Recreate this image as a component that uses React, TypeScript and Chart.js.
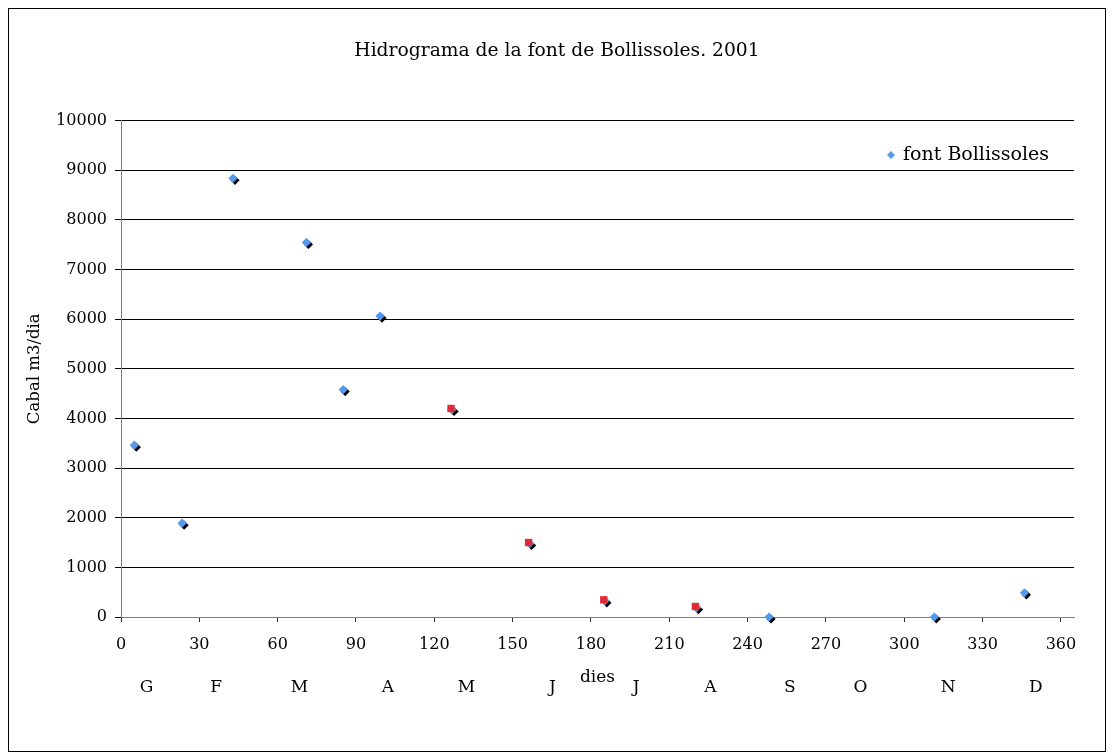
import React, { useEffect, useRef } from 'react';
import { Chart, registerables } from 'chart.js';

Chart.register(...registerables);

const TITLE = 'Hidrograma de la font de Bollissoles. 2001';
const SERIES_LABEL = 'font Bollissoles';
const X_TITLE = 'dies';
const Y_TITLE = 'Cabal m3/dia';

// font Bollissoles (blue diamonds)
const bollissolesDays = [5.1, 23.4, 42.9, 71.0, 85.1, 99.2, 126.8, 156.5, 185.3, 220.4, 248.2, 311.5, 346.0];
const bollissolesFlow = [3460, 1890, 8835, 7545, 4580, 6060, 4180, 1480, 325, 190, 0, 0, 486];

// red square measurements
const redDays = [126.4, 156.1, 184.9, 220.0];
const redFlow = [4200, 1500, 346, 212];

// month letters under the axis
const monthLabels = ['G', 'F', 'M', 'A', 'M', 'J', 'J', 'A', 'S', 'O', 'N', 'D'];
const monthPositions = [9.8, 36.4, 68.3, 102.2, 132.3, 165.2, 197.3, 225.7, 256.2, 283.2, 316.8, 350.4];

const X_MIN = 0;
const X_MAX = 365;
const X_STEP = 30;
const Y_MIN = 0;
const Y_MAX = 10000;
const Y_STEP = 1000;

const FONT = '"DejaVu Serif", "Liberation Serif", serif';
const BLUE = '#5599EE';
const RED = '#E02A36';

const W = 1096;
const H = 742;

export default function App() {
  const ref = useRef<HTMLCanvasElement | null>(null);

  useEffect(() => {
    if (!ref.current) return;

    const shadowPlugin = {
      id: 'blueShadow',
      beforeDatasetDraw(chart: any, args: any) {
        if (args.index === 0) {
          const ctx = chart.ctx;
          ctx.save();
          ctx.shadowColor = '#000000';
          ctx.shadowOffsetX = 2;
          ctx.shadowOffsetY = 2;
          ctx.shadowBlur = 0;
        }
      },
      afterDatasetDraw(chart: any, args: any) {
        if (args.index === 0) chart.ctx.restore();
      },
    };

    const extrasPlugin = {
      id: 'extras',
      afterDraw(chart: any) {
        const { ctx, chartArea, scales } = chart;
        ctx.save();
        // title
        ctx.fillStyle = '#000';
        ctx.font = `18.7px ${FONT}`;
        ctx.textAlign = 'center';
        ctx.textBaseline = 'middle';
        ctx.fillText(TITLE, 548, 42);
        // legend
        const mx = chartArea.right - 183;
        const my = chartArea.top + 34.5;
        const r = 4;
        ctx.fillStyle = BLUE;
        ctx.beginPath();
        ctx.moveTo(mx, my - r);
        ctx.lineTo(mx + r, my);
        ctx.lineTo(mx, my + r);
        ctx.lineTo(mx - r, my);
        ctx.closePath();
        ctx.fill();
        ctx.fillStyle = '#000';
        ctx.font = `19px ${FONT}`;
        ctx.textAlign = 'left';
        ctx.fillText(SERIES_LABEL, chartArea.right - 171, my);
        // months
        ctx.font = `17px ${FONT}`;
        ctx.textAlign = 'center';
        monthLabels.forEach((m, i) => {
          const x = scales.x.getPixelForValue(monthPositions[i]);
          ctx.fillText(m, x, chartArea.bottom + 71);
        });
        ctx.restore();
      },
    };

    const chart = new Chart(ref.current, {
      type: 'scatter',
      data: {
        datasets: [
          {
            label: SERIES_LABEL,
            data: bollissolesDays.map((d, i) => ({ x: d, y: bollissolesFlow[i] })),
            pointStyle: 'rectRot',
            pointRadius: 4.6,
            pointHoverRadius: 4.6,
            pointBackgroundColor: BLUE,
            pointBorderWidth: 0,
            borderColor: BLUE,
            backgroundColor: BLUE,
            showLine: false,
            clip: false as any,
            order: 1,
          },
          {
            label: 'mesures',
            data: redDays.map((d, i) => ({ x: d, y: redFlow[i] })),
            pointStyle: 'rect',
            pointRadius: 5.2,
            pointHoverRadius: 5.2,
            pointBackgroundColor: RED,
            pointBorderWidth: 0,
            borderColor: RED,
            backgroundColor: RED,
            showLine: false,
            clip: false as any,
            order: 0,
          },
        ],
      },
      options: {
        responsive: false,
        animation: false,
        devicePixelRatio: 1,
        layout: { padding: { left: 0, right: 31, top: 111.5, bottom: 0 } },
        plugins: {
          legend: { display: false },
          tooltip: { enabled: false },
          title: { display: false },
        },
        scales: {
          x: {
            type: 'linear',
            position: 'bottom',
            min: X_MIN,
            max: X_MAX,
            ticks: {
              stepSize: X_STEP,
              includeBounds: false,
              color: '#000',
              font: { family: FONT, size: 16 },
              padding: 13,
              maxRotation: 0,
              autoSkip: false,
              callback: (v: any) => String(v),
            },
            grid: { drawOnChartArea: false, drawTicks: true, tickLength: 5, color: '#333' },
            border: { display: true, color: '#808080', width: 1 },
            title: {
              display: true,
              text: X_TITLE,
              color: '#000',
              font: { family: FONT, size: 17 },
              padding: { top: 0, bottom: 62.8 },
            },
            afterFit(scale: any) {
              scale.height = 134;
            },
          },
          y: {
            type: 'linear',
            min: Y_MIN,
            max: Y_MAX,
            ticks: {
              stepSize: Y_STEP,
              color: '#000',
              font: { family: FONT, size: 16 },
              padding: 8,
              callback: (v: any) => String(v),
            },
            grid: { color: '#000', lineWidth: 1, drawTicks: true, tickLength: 6 },
            border: { display: true, color: '#808080', width: 1 },
            title: {
              display: true,
              text: Y_TITLE,
              color: '#000',
              font: { family: FONT, size: 16.5 },
              padding: { top: 16, bottom: 0 },
            },
            afterFit(scale: any) {
              scale.width = 112;
            },
          },
        },
      } as any,
      plugins: [shadowPlugin, extrasPlugin],
    });

    return () => chart.destroy();
  }, []);

  return (
    <div style={{ border: '1px solid #000', width: W, height: H, background: '#fff' }}>
      <canvas ref={ref} width={W} height={H} style={{ display: 'block' }} />
    </div>
  );
}
